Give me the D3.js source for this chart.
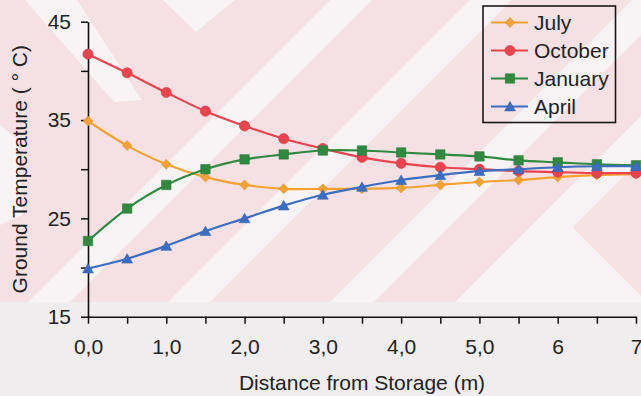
<!DOCTYPE html>
<html>
<head>
<meta charset="utf-8">
<script src="https://cdn.jsdelivr.net/npm/d3@7/dist/d3.min.js"></script>
<style>
  html, body { margin: 0; padding: 0; background: #efeded; }
  svg { display: block; }
  text { font-family: "Liberation Sans", Arial, sans-serif; fill: #222; }
</style>
</head>
<body>
<svg id="chart" width="641" height="396"></svg>
<script>
// Distance from storage (m) and monthly ground temperature profiles (°C)
const distances = [0, 0.5, 1, 1.5, 2, 2.5, 3, 3.5, 4, 4.5, 5, 5.5, 6, 6.5, 7];
const july    = [34.9, 32.4, 30.5, 29.2, 28.4, 28.0, 28.0, 28.0, 28.1, 28.4, 28.7, 28.9, 29.2, 29.4, 29.5];
const october = [41.7, 39.8, 37.8, 35.9, 34.4, 33.1, 32.1, 31.2, 30.6, 30.2, 30.0, 29.8, 29.7, 29.6, 29.6];
const january = [22.7, 26.0, 28.4, 30.0, 31.0, 31.5, 31.9, 31.9, 31.7, 31.5, 31.3, 30.9, 30.7, 30.5, 30.4];
const april   = [19.9, 20.9, 22.2, 23.7, 25.0, 26.3, 27.4, 28.2, 28.9, 29.4, 29.8, 30.0, 30.2, 30.3, 30.3];

const seriesNames  = ["July", "October", "January", "April"];
const seriesColors = ["#f5a233", "#e9434d", "#2f8a3f", "#3b6ec2"];
const seriesShapes = ["diamond", "circle", "square", "triangle"];

const xTickValues = [0, 0.5, 1, 1.5, 2, 2.5, 3, 3.5, 4, 4.5, 5, 5.5, 6, 6.5, 7];
const xTickLabels = ["0,0", "1,0", "2,0", "3,0", "4,0", "5,0", "6", "7"];
const yTickValues = [15, 20, 25, 30, 35, 40, 45];
const yTickLabels = ["15", "", "25", "", "35", "", "45"];

const series = [july, october, january, april].map((vals, i) => ({
  name: seriesNames[i], color: seriesColors[i], shape: seriesShapes[i],
  points: vals.map((v, j) => ({ x: distances[j], y: v }))
}));

const svg = d3.select("#chart");
const W = 641, H = 396;
const plot = { left: 88, right: 636, top: 21.7, bottom: 316.7 };

// Decorative print background: pink field with pale diagonal stripes
const bg = svg.append("g").attr("class", "backdrop");
bg.append("rect").attr("x", 0).attr("y", 0).attr("width", W).attr("height", H).attr("fill", "#efeded");
bg.append("rect").attr("x", 0).attr("y", 0).attr("width", W).attr("height", 302).attr("fill", "#f5e0e3");
const stripes = [
  [[25, 0], [77, 0], [142, 100], [114, 102]],
  [[0, 125], [18, 140], [22, 215], [0, 225]],
  [[163, 0], [235, 0], [196, 32]],
  [[330, 0], [372, 0], [70, 302], [28, 302]],
  [[470, 0], [512, 0], [210, 302], [168, 302]],
  [[632, 0], [676, 0], [374, 302], [330, 302]],
  [[641, 116], [455, 302], [641, 302], [641, 296], [572.5, 227.5], [641, 159]]
];
bg.selectAll("path.stripe").data(stripes).join("path")
  .attr("class", "stripe")
  .attr("d", d => "M" + d.map(p => p.join(",")).join("L") + "Z")
  .attr("fill", "#f8f3f4");

const x = d3.scaleLinear().domain([0, 7]).range([plot.left, plot.right]);
const y = d3.scaleLinear().domain([15, 45]).range([plot.bottom, plot.top]);

// Marker path builders
function markerPath(shape) {
  switch (shape) {
    case "diamond":  return "M0,-5L4.8,0L0,5L-4.8,0Z";
    case "circle":   return d3.symbol(d3.symbolCircle, Math.PI * 5.1 * 5.1)();
    case "square":   return "M-4.7,-4.7H4.7V4.7H-4.7Z";
    case "triangle": return "M0,-5L5.4,4.4H-5.4Z";
  }
}

// Axes
const yAxis = d3.axisLeft(y).tickValues(yTickValues).tickSize(7).tickSizeOuter(0).tickPadding(10)
  .tickFormat((d, i) => yTickLabels[i]);
const xAxis = d3.axisBottom(x).tickValues(xTickValues).tickSize(7).tickSizeOuter(0).tickPadding(15)
  .tickFormat(d => Number.isInteger(d) ? xTickLabels[d] : "");

const gy = svg.append("g").attr("transform", `translate(${plot.left},0)`).call(yAxis);
const gx = svg.append("g").attr("transform", `translate(0,${plot.bottom})`).call(xAxis);
[gx, gy].forEach(g => {
  g.select(".domain").attr("stroke", "#111").attr("stroke-width", 1.6);
  g.selectAll(".tick line").attr("stroke", "#111").attr("stroke-width", 1.5);
  g.selectAll(".tick text").attr("font-size", 21).attr("fill", "#222")
    .attr("font-family", "Liberation Sans, Arial, sans-serif");
});

// Series lines (smoothed) and markers
const line = d3.line().x(d => x(d.x)).y(d => y(d.y)).curve(d3.curveCatmullRom.alpha(0.5));
const gs = svg.append("g");
series.forEach(s => {
  gs.append("path").datum(s.points)
    .attr("d", line).attr("fill", "none")
    .attr("stroke", s.color).attr("stroke-width", 2.2);
  gs.append("g").selectAll("path").data(s.points).join("path")
    .attr("transform", d => `translate(${x(d.x)},${y(d.y)})`)
    .attr("d", markerPath(s.shape))
    .attr("fill", s.color)
    .attr("stroke", d3.color(s.color).darker(0.3))
    .attr("stroke-width", 0.6);
});

// Axis titles
svg.append("text")
  .attr("x", (plot.left + plot.right) / 2).attr("y", 390)
  .attr("text-anchor", "middle").attr("font-size", 21)
  .text("Distance from Storage (m)");
svg.append("text")
  .attr("transform", `translate(26.5,${(plot.top + plot.bottom) / 2}) rotate(-90)`)
  .attr("text-anchor", "middle").attr("font-size", 21)
  .text("Ground Temperature ( ° C)");

// Legend
const legend = svg.append("g");
legend.append("rect")
  .attr("x", 483).attr("y", 6).attr("width", 132.5).attr("height", 116.5)
  .attr("fill", "none").attr("stroke", "#1a1a1a").attr("stroke-width", 1.6);
series.forEach((s, i) => {
  const cy = 22.5 + i * 28;
  legend.append("line").attr("x1", 491).attr("x2", 528).attr("y1", cy).attr("y2", cy)
    .attr("stroke", s.color).attr("stroke-width", 2.2);
  legend.append("path").attr("transform", `translate(510,${cy})`)
    .attr("d", markerPath(s.shape)).attr("fill", s.color)
    .attr("stroke", d3.color(s.color).darker(0.3)).attr("stroke-width", 0.6);
  legend.append("text").attr("x", 534).attr("y", cy + 7.5)
    .attr("font-size", 21).text(s.name);
});
</script>
</body>
</html>
